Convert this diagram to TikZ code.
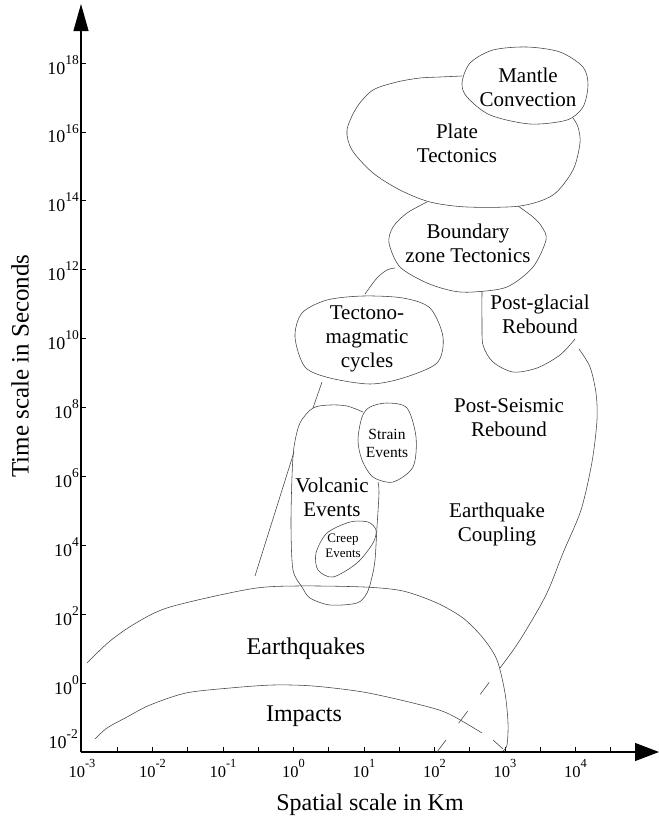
\documentclass[tikz,border=0pt]{standalone}
\usepackage{fontspec}
\setmainfont{Liberation Serif}
\usepackage{graphicx}
\usetikzlibrary{arrows.meta}

\newcommand{\tenpow}[1]{10\raisebox{0.55em}{\scalebox{0.75}{#1}}}

\tikzset{
  axis/.style={line width=1.1pt, black},
  curve/.style={line width=0.55pt, black!75},
  lbl/.style={font=\fontsize{21}{24}\selectfont, align=center, inner sep=0pt},
  biglbl/.style={font=\fontsize{24}{27}\selectfont, inner sep=0pt},
  midlbl/.style={font=\fontsize{15.5}{18}\selectfont, align=center, inner sep=0pt},
  smalllbl/.style={font=\fontsize{13}{14.5}\selectfont, align=center, inner sep=0pt},
  xlab/.style={font=\fontsize{16.5}{16.5}\selectfont, anchor=base, inner sep=0pt},
  ylab/.style={font=\fontsize{18}{18}\selectfont, anchor=base east, inner sep=0pt},
  title/.style={font=\fontsize{24}{27}\selectfont, inner sep=0pt}
}

\begin{document}
\begin{tikzpicture}[x=1pt,y=-1pt]
  \useasboundingbox (0,0) rectangle (659,820);

  \coordinate (O) at (81,752);
  \coordinate (ytop) at (81,4);
  \coordinate (xend) at (659,752);
  \draw[axis,-{Triangle[length=27pt,width=15pt]}] (O) -- (ytop);
  \draw[axis,-{Triangle[length=24pt,width=18pt]}] (O) -- (xend);

  \foreach \k in {1,...,15}
    \draw[axis,line width=0.8pt] (82+35.25*\k,752) -- ++(0,-5);
  \foreach \e [count=\i from 0] in {-3,...,4}
    \node[xlab] (xl\i) at (82+70.5*\i,777) {\tenpow{\e}};

  \node[ylab] (yl0) at (78,748) {\tenpow{-2}};
  \foreach \e [count=\i] in {0,2,...,18} {
    \draw[axis,line width=0.8pt] (81,752-68.9*\i) -- ++(5,0);
    \node[ylab] (yl\i) at (79,752-68.9*\i+11) {\tenpow{\e}};
  }

  \node[title] (xtitle) at (370,805) {Spatial scale in Km};
  \node[title,font=\fontsize{25}{28}\selectfont,rotate=90] (ytitle) at (20,366) {Time scale in Seconds};

  % regions
  \draw[curve] plot[smooth cycle] coordinates {(462,83) (470,63) (493,50) (527,47) (560,52) (583,67) (588,85) (583,107) (567,120) (530,124) (490,115) (467,97)};
  \draw[curve] plot[smooth] coordinates {(462,76) (440,77) (420,78) (397,82) (373,90) (357,107) (347,130) (352,150) (373,173) (400,190) (430,202) (467,207) (520,206) (553,195) (573,170) (580,143) (578,127) (573,118)};
  \draw[curve] plot[smooth] coordinates {(427,202) (407,213) (393,227) (389,243) (400,267) (427,283) (453,291) (473,292) (507,287) (533,267) (546,240) (542,227) (533,217) (518,206)};
  \draw[curve] plot[smooth cycle] coordinates {(363,296) (403,298) (430,308) (443,337) (437,363) (403,378) (370,384) (330,378) (305,367) (295,337) (302,313) (327,300)};
  \draw[curve] plot[smooth] coordinates {(395,268) (387,270) (377,278) (365,294)};
  \draw[curve] (322,382) -- (313,408);
  \draw[curve] (294,452) -- (255,576);
  \draw[curve] plot[smooth] coordinates {(482,291) (482,320) (483,345) (493,362) (513,372) (537,368) (560,355) (575,339)};
  \draw[curve] plot[smooth] coordinates {(579,349) (590,367) (596,393) (597,420) (592,462) (581,510) (563,553) (546,595) (520,640) (500,668)};
  \draw[curve,dash pattern=on 15pt off 21pt,dash phase=18pt] (500,668) -- (437,752);
  \draw[curve] plot[smooth cycle] coordinates {(387,403) (407,408) (416,437) (413,467) (393,482) (373,477) (362,460) (358,440) (362,417) (370,407)};
  \draw[curve] plot[smooth] coordinates {(363,412) (347,406) (330,405) (313,408) (300,423) (294,447) (292,477) (291,527) (293,570) (302,587) (310,598) (330,605) (357,603) (367,593) (372,577) (375,560) (377,527) (379,493) (378,482)};
  \draw[curve] plot[smooth cycle] coordinates {(368,522) (376,530) (373,543) (357,563) (333,577) (318,570) (316,553) (327,533) (350,522)};
  \draw[curve] plot[smooth] coordinates {(87,663) (110,641) (136,623) (170,607) (250,589) (296,586) (364,587) (403,591) (437,603) (463,618) (483,638) (497,660) (505,693) (508,723) (507,745) (503,751)};
  \draw[curve] plot[smooth] coordinates {(95,739) (107,728) (127,717) (150,705) (186,693) (230,688) (273,685) (313,686) (363,692) (413,703) (447,713) (482,733)};
  \draw[curve] (493,740) -- (503,749);

  \node[lbl] (mantle) at (528,87) {Mantle\\Convection};
  \node[lbl] (plate) at (457,143) {Plate\\Tectonics};
  \node[lbl] (boundary) at (468,243) {Boundary\\zone Tectonics};
  \node[lbl] (tectono) at (367,339) {Tectono-\\magmatic\\cycles};
  \node[lbl] (glacial) at (540,314) {Post-glacial\\Rebound};
  \node[lbl] (seismic) at (509,418) {Post-Seismic\\Rebound};
  \node[midlbl] (strain) at (387,443) {Strain\\Events};
  \node[lbl] (volcanic) at (332,497) {Volcanic\\Events};
  \node[smalllbl] (creep) at (343,546) {Creep\\Events};
  \node[lbl] (coupling) at (497,524) {Earthquake\\Coupling};
  \node[biglbl] (quakes) at (306,649) {Earthquakes};
  \node[biglbl] (impacts) at (304,716) {Impacts};
\end{tikzpicture}
\end{document}
